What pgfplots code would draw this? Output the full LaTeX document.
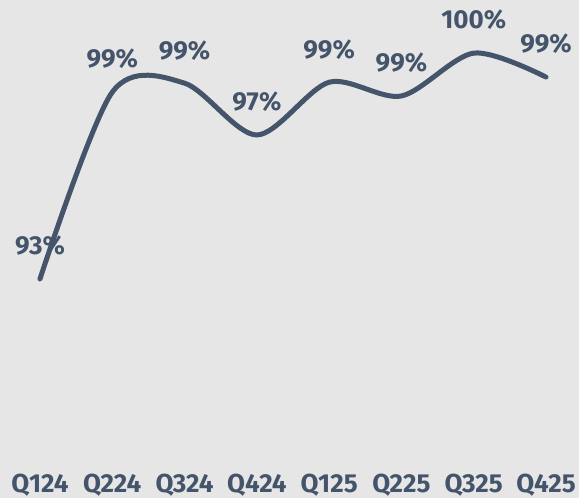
\documentclass[border=0pt]{standalone}
\usepackage{pgfplots}
\pgfplotsset{compat=1.18}
\usepackage{fontspec}
\setmainfont{Fira Sans}
\usetikzlibrary{backgrounds}
\definecolor{linec}{HTML}{44546A}
\definecolor{bgc}{HTML}{E7E6E6}
\begin{document}
\begin{tikzpicture}
\begin{axis}[
  at={(0,0)}, anchor=south west,
  scale only axis, width=579pt, height=468pt,
  xmin=-0.553, xmax=7.456, ymin=86.93, ymax=101.56,
  axis line style={draw=none},
  tick style={draw=none},
  ytick=\empty,
  xtick={0,...,7},
  xticklabels={Q124,Q224,Q324,Q424,Q125,Q225,Q325,Q425},
  xticklabel style={font=\fontsize{26}{30}\selectfont\bfseries, text=linec, anchor=base, yshift=-25pt},
  clip=false,
  nodes near coords,
  point meta=explicit symbolic,
  every node near coord/.append style={font=\fontsize{26}{30}\selectfont\bfseries, text=linec, anchor=center, yshift=33pt},
]
\addplot[linec, line width=5pt, line cap=round, smooth] coordinates {
  (0,92.84) [93\%]
  (1,98.68) [99\%]
  (2,98.96) [99\%]
  (3,97.34) [97\%]
  (4,98.99) [99\%]
  (5,98.56) [99\%]
  (6,99.90) [100\%]
  (7,99.15) [99\%]
};
\end{axis}
\begin{scope}[on background layer]
\fill[bgc] (0,-30pt) rectangle (579pt,468pt);
\end{scope}
\pgfresetboundingbox
\path[use as bounding box] (0,-30pt) rectangle (579pt,468pt);
\end{tikzpicture}
\end{document}
